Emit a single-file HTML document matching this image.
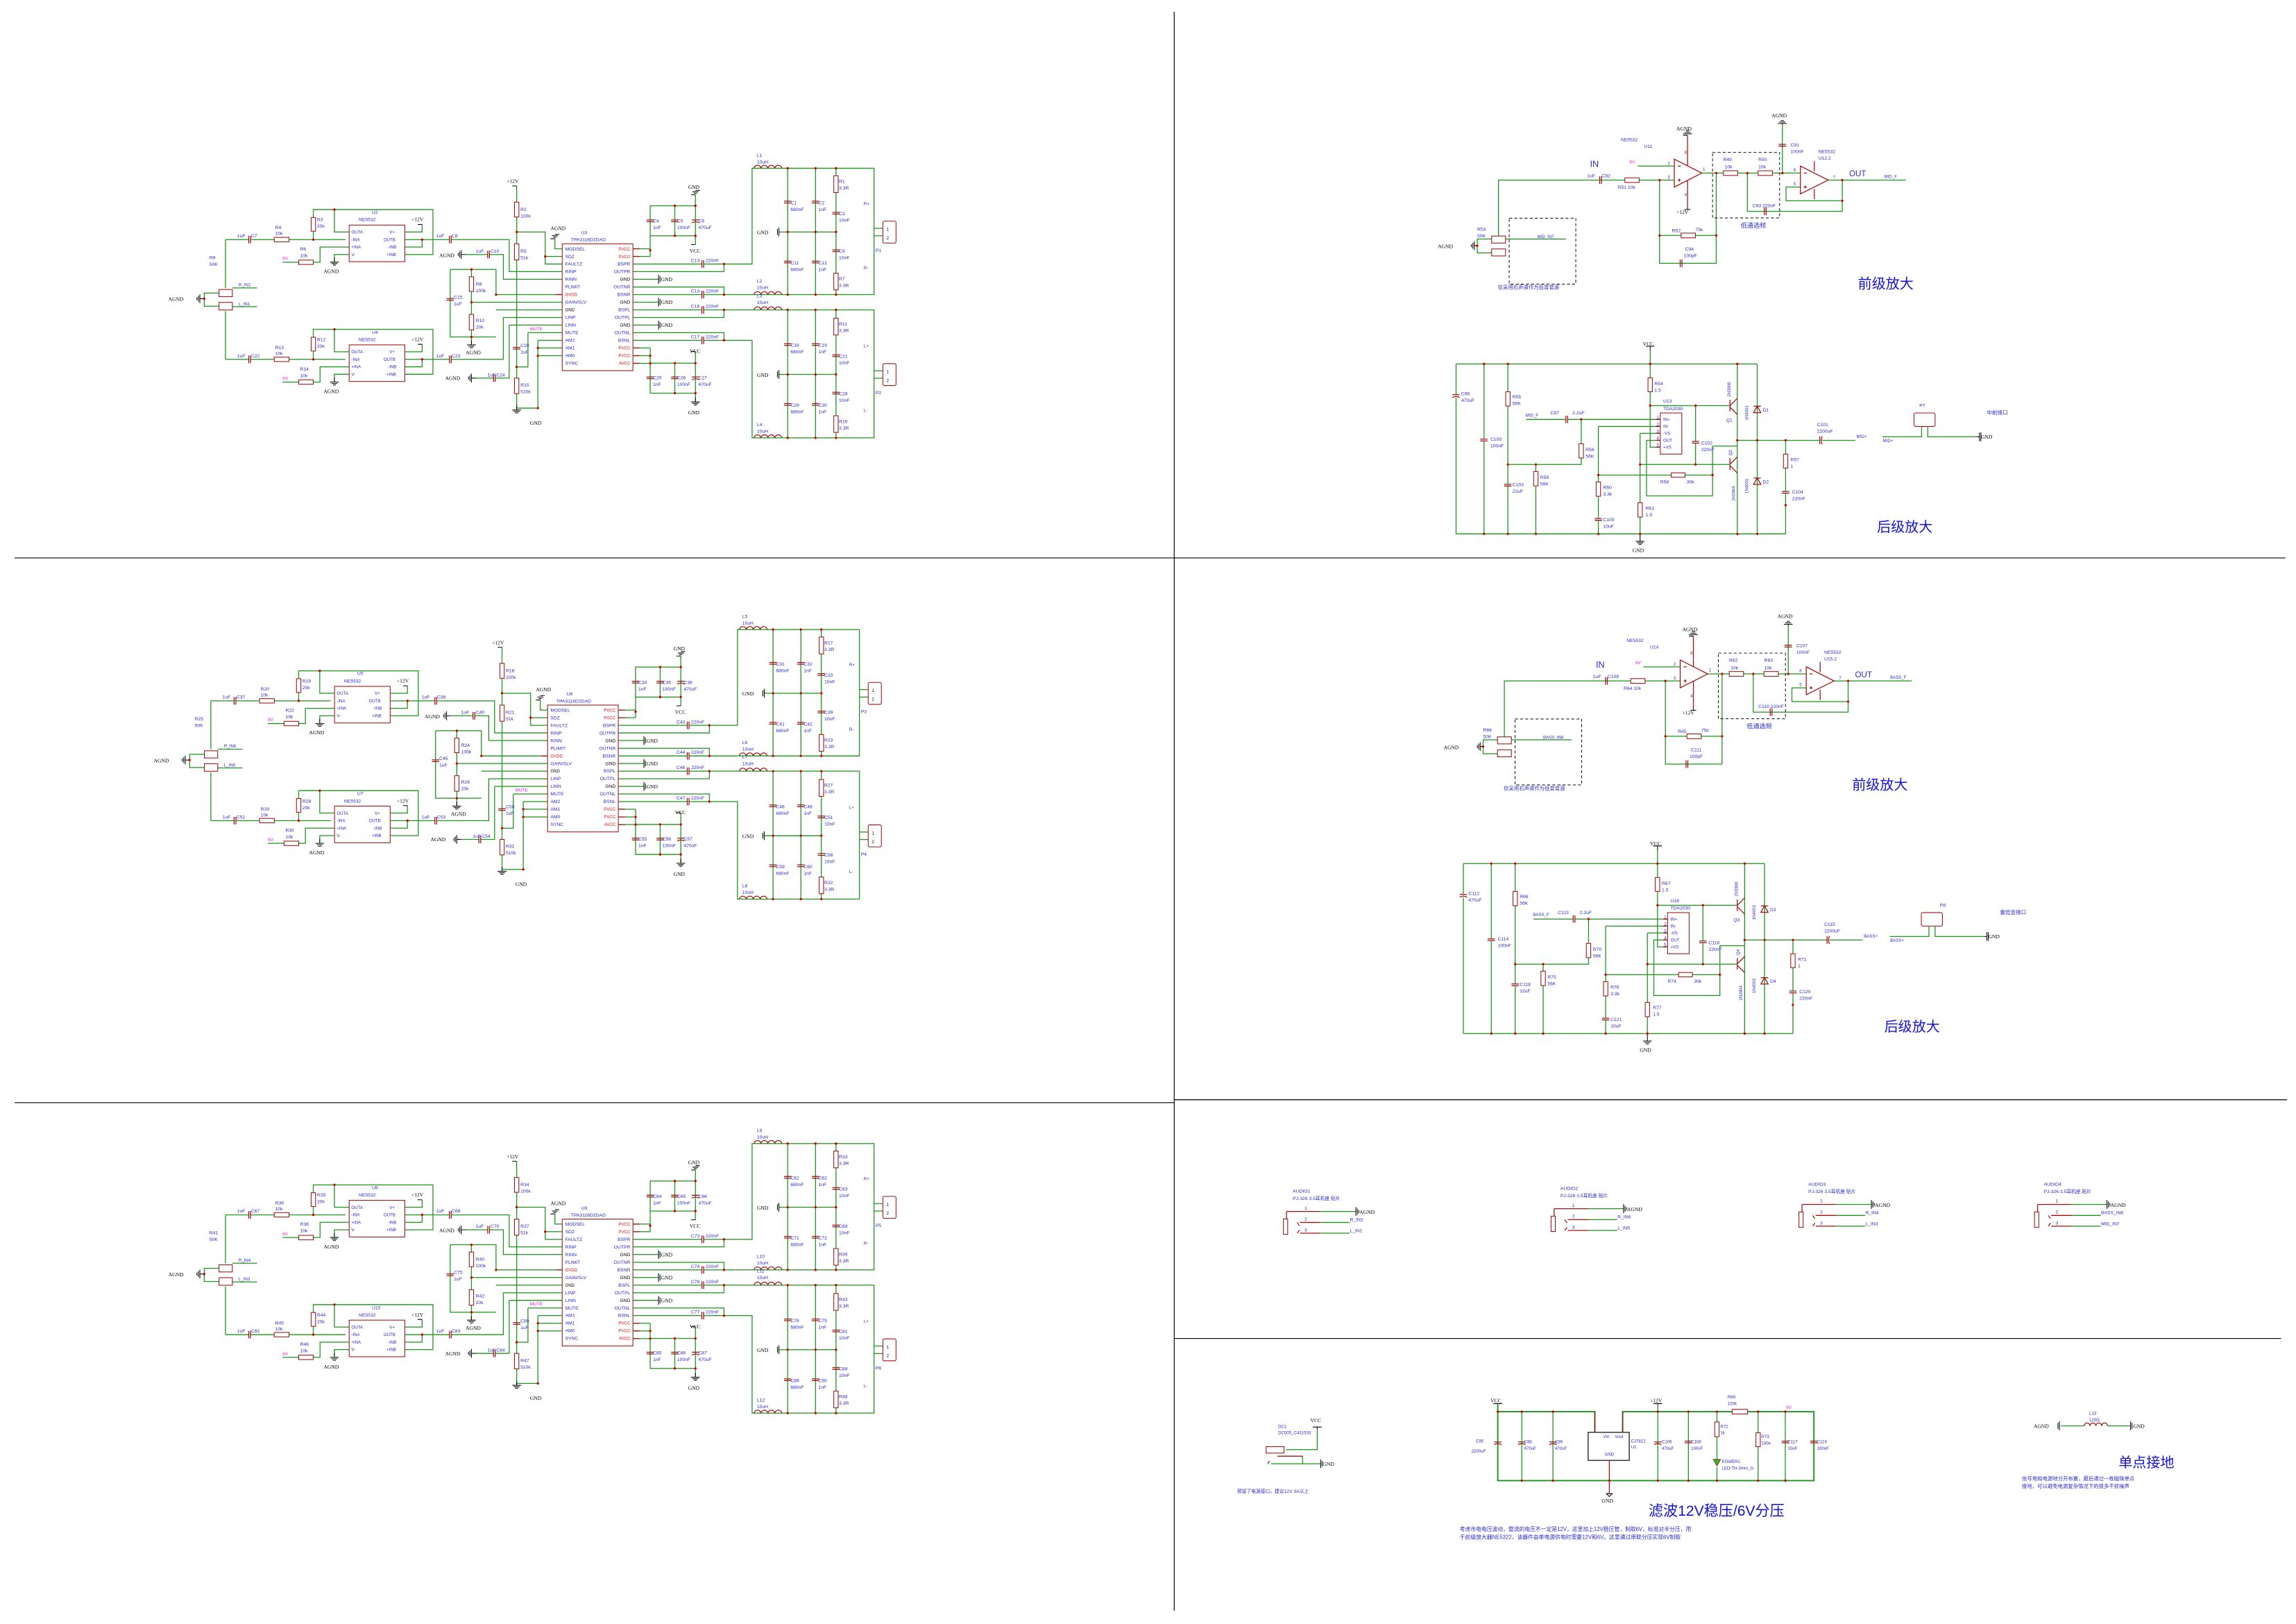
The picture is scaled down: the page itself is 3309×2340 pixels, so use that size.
<!DOCTYPE html>
<html><head><meta charset="utf-8"><style>
html,body{margin:0;padding:0;background:#fff}
svg{display:block}
.w{stroke:#1a941a;stroke-width:.6;fill:none}
.r{stroke:#a01010;stroke-width:.5;fill:#fff}
.c{stroke:#a01010;stroke-width:.6;fill:none}
.k{stroke:#000;stroke-width:.5;fill:none}
.d{fill:#d00000}
.dv{stroke:#000;stroke-width:.55;fill:none}
.ds{stroke:#000;stroke-width:.45;fill:none;stroke-dasharray:2 1.5}
text{font-family:"Liberation Sans","Noto Sans CJK SC",sans-serif;font-size:3.2px;fill:#2a2ad0}
.b{fill:#000;font-family:"Liberation Serif","Noto Serif CJK SC",serif;font-size:3.6px}
.m{fill:#e020e0;font-size:3px}
.rd{fill:#e01010}
.s{font-size:2.9px}
.big{font-size:9.5px;fill:#1010e0;font-family:"Liberation Sans","Noto Sans CJK SC",sans-serif}
</style></head><body>
<svg width="3309" height="2340" viewBox="0 0 1568.2 1109" preserveAspectRatio="none" xmlns="http://www.w3.org/2000/svg">
<defs>
<g id="gd"><path class="k" d="M0 -3V0M-3 0H3M-2 1H2M-1 2H1"/></g>
<g id="ag"><path class="k" d="M3 0H0M0 -3V3M-1 -2V2M-2 -1V1"/></g>
<g id="ampS">
<path class="w" d="M154 163.6V196.6M154 212.5V245.4M154 163.6H236M154 245.4H236
M214 163.6V143.1H295.7V173.8H276.5M228.4 143.1V158.4H238.5M276.5 158.4H288.3V153.3M276.5 163.6H347.8V185.5H384M276.5 168.7H288.3V163.6
M238.5 168.7H218.6V179.1H193M238.5 173.8H228.4V178
M214 245.4V224.9H295.7V255.6H276.5M228.4 224.9V240.2H238.5M276.5 240.2H288.3V235.1M276.5 245.4H343.8V216.8H384M276.5 250.5H288.3V245.4
M238.5 250.5H218.6V260.9H193M238.5 255.6H228.4V260
M318 173.8H343.8V190.7H384
M307.5 184H338.8V201.2H384M307.5 184V230.1H338.8M322 184V235M322 206.4H384M338.8 211.6H384
M347.8 222H384M325 258.2H347.8V222
M360.6 227.2H384M360.6 227.2V250.6H352.9
M367.4 232.4H384M367.4 237.6H384M367.4 242.9H384M367.4 232.4V278.7H352.9
M352.9 127V278.7M352.9 158.4H372.4V180.3H384M372.4 175.1H384M379 163V169.9H384
M432 169.9H444.1M432 175.1H444.1M444.1 175.1V140.5H475V161H444.1M460.9 140.5V161M475 133V140.5M475 161V167
M432 180.3H494.5V185.5H432M494.5 180.3H513.7V114.9H597V201.2H494.5V196H432M432 201.2H494.5
M432 190.7H449.8M432 206.4H449.8M432 222H449.8
M432 211.6H597V299H513.7V232.4H432M432 216.8H494.5V211.6M432 227.2H494.5V232.4
M432 237.6H444.1M432 242.9H444.1M432 248.1H444.1M444.1 237.6V268.5H475V248H444.1M460.9 248V268.5M475 240V248M475 268.5V274
M538 114.9V201.2M557 114.9V201.2M571 114.9V201.2M532 158.4H571
M538 211.6V299M557 211.6V299M571 211.6V299M532 255.7H571
M597 155.9H603M597 161H603M597 253.2H603M597 258.3H603
M139.5 204V200.1H149.6M139.5 204V209.1H149.6M158.7 196.6H175.6M158.7 209.4H175.6"/>
<path class="k" d="M449.8 187.7V193.7M450.8 188.7V192.7M449.8 203.4V209.4M450.8 204.4V208.4M449.8 219V225M450.8 220V224M532 155.4V161.4M531 156.4V160.4M532 252.7V258.7M531 253.7V257.7"/>
<use href="#ag" x="136.5" y="204"/><use href="#ag" x="315" y="173.8"/><use href="#ag" x="322" y="258.2"/>
<use href="#gd" x="228.4" y="179"/><use href="#gd" x="228.4" y="260.9"/><use href="#gd" x="322" y="235.5"/><use href="#gd" x="352.9" y="280"/>
<use href="#gd" x="475" y="274.5"/>
<path class="k" d="M288.3 153.3H285.3M288.3 235.1H285.3M352.9 127H349.9M475 133H472M475 130H478M473 131H477M474 132H476M379 163H376M379 160H382M377 161H381M378 162H380M475 167H472M475 240H472"/>
<g class="r">
<rect x="212.5" y="148.5" width="3" height="9.4"/><rect x="212.5" y="230.3" width="3" height="9.4"/>
<rect x="320.5" y="189" width="3" height="10"/><rect x="320.5" y="214.7" width="3" height="10.6"/>
<rect x="351.4" y="138" width="3" height="10.2"/><rect x="351.4" y="166.5" width="3" height="11"/><rect x="351.4" y="258.2" width="3" height="10.6"/>
<rect x="569.5" y="120" width="3" height="11.5"/><rect x="569.5" y="186.6" width="3" height="11.4"/>
<rect x="569.5" y="217.3" width="3" height="11.5"/><rect x="569.5" y="283.9" width="3" height="11.4"/>
<rect x="187.3" y="162.1" width="10.1" height="3"/><rect x="187.3" y="243.9" width="10.1" height="3"/>
<rect x="204" y="177.6" width="10" height="3"/><rect x="204" y="259.4" width="10" height="3"/>
<rect x="149.6" y="197.7" width="9.1" height="4.9"/><rect x="149.6" y="206.5" width="9.1" height="5.2"/>
<rect x="238.5" y="153.7" width="38" height="25"/><rect x="238.5" y="235.5" width="38" height="25"/>
<rect x="384" y="166.5" width="48.3" height="86.6"/>
<rect x="603" y="151" width="9" height="15" rx="1"/><rect x="603" y="248.3" width="9" height="15" rx="1"/>
</g>
<g fill="#fff"><rect x="169.8" y="161" width="1.4" height="5.2"/><rect x="169.8" y="242.8" width="1.4" height="5.2"/><rect x="306.9" y="161" width="1.4" height="5.2"/><rect x="306.9" y="242.8" width="1.4" height="5.2"/><rect x="333" y="171.2" width="1.4" height="5.2"/><rect x="337" y="255.6" width="1.4" height="5.2"/><rect x="479.3" y="177.7" width="1.4" height="5.2"/><rect x="479.3" y="198.6" width="1.4" height="5.2"/><rect x="479.3" y="209" width="1.4" height="5.2"/><rect x="479.3" y="229.8" width="1.4" height="5.2"/></g>
<path class="c" d="M169.9 161V166.2M171.1 161V166.2M169.9 242.8V248M171.1 242.8V248M307 161V166.2M308.2 161V166.2M307 242.8V248M308.2 242.8V248M333.1 171.2V176.4M334.3 171.2V176.4M337.1 255.6V260.8M338.3 255.6V260.8M479.4 177.7V182.9M480.6 177.7V182.9M479.4 198.6V203.8M480.6 198.6V203.8M479.4 209V214.2M480.6 209V214.2M479.4 229.8V235M480.6 229.8V235
M305 203.9H310M305 205.1H310M350.4 237.2H355.4M350.4 238.4H355.4M441.6 150.2H446.6M441.6 151.4H446.6M458.4 150.2H463.4M458.4 151.4H463.4M472.5 150.2H477.5M472.5 152.2Q475 150.6 477.5 152.2
M441.6 257.4H446.6M441.6 258.6H446.6M458.4 257.4H463.4M458.4 258.6H463.4M472.5 257.4H477.5M472.5 259.4Q475 257.8 477.5 259.4
M535.5 137.4H540.5M535.5 138.6H540.5M554.5 137.4H559.5M554.5 138.6H559.5M568.5 145H573.5M568.5 146.2H573.5M568.5 170.6H573.5M568.5 171.8H573.5M535.5 178.3H540.5M535.5 179.5H540.5M554.5 178.3H559.5M554.5 179.5H559.5
M535.5 234.7H540.5M535.5 235.9H540.5M554.5 234.7H559.5M554.5 235.9H559.5M568.5 242.3H573.5M568.5 243.5H573.5M568.5 267.9H573.5M568.5 269.1H573.5M535.5 275.6H540.5M535.5 276.8H540.5M554.5 275.6H559.5M554.5 276.8H559.5
M515 114.9a2.4 2.4 0 0 1 4.75 0a2.4 2.4 0 0 1 4.75 0a2.4 2.4 0 0 1 4.75 0a2.4 2.4 0 0 1 4.75 0
M515 201.2a2.4 2.4 0 0 1 4.75 0a2.4 2.4 0 0 1 4.75 0a2.4 2.4 0 0 1 4.75 0a2.4 2.4 0 0 1 4.75 0
M515 211.6a2.4 2.4 0 0 1 4.75 0a2.4 2.4 0 0 1 4.75 0a2.4 2.4 0 0 1 4.75 0a2.4 2.4 0 0 1 4.75 0
M515 299a2.4 2.4 0 0 1 4.75 0a2.4 2.4 0 0 1 4.75 0a2.4 2.4 0 0 1 4.75 0a2.4 2.4 0 0 1 4.75 0
M432.3 169.9H437M432.3 175.1H437M432.3 237.6H437M432.3 242.9H437M432.3 248.1H437M379.5 201.2H384"/>
<g class="d"><circle cx="214" cy="163.6" r=".8"/><circle cx="228.4" cy="143.1" r=".8"/><circle cx="288.3" cy="163.6" r=".8"/><circle cx="214" cy="245.4" r=".8"/><circle cx="228.4" cy="224.9" r=".8"/><circle cx="288.3" cy="245.4" r=".8"/><circle cx="139.5" cy="204" r=".8"/><circle cx="322" cy="184" r=".8"/><circle cx="322" cy="206.4" r=".8"/><circle cx="322" cy="230.1" r=".8"/><circle cx="352.9" cy="158.4" r=".8"/><circle cx="352.9" cy="250.6" r=".8"/><circle cx="372.4" cy="175.1" r=".8"/><circle cx="367.4" cy="237.6" r=".8"/><circle cx="367.4" cy="242.9" r=".8"/><circle cx="367.4" cy="278.7" r=".8"/><circle cx="338.8" cy="201.2" r=".8"/><circle cx="444.1" cy="171" r=".8"/><circle cx="460.9" cy="140.5" r=".8"/><circle cx="475" cy="140.5" r=".8"/><circle cx="460.9" cy="161" r=".8"/><circle cx="475" cy="161" r=".8"/><circle cx="494.5" cy="180.3" r=".8"/><circle cx="494.5" cy="201.2" r=".8"/><circle cx="494.5" cy="211.6" r=".8"/><circle cx="494.5" cy="232.4" r=".8"/><circle cx="444.1" cy="242.9" r=".8"/><circle cx="444.1" cy="248.1" r=".8"/><circle cx="460.9" cy="248" r=".8"/><circle cx="475" cy="248" r=".8"/><circle cx="460.9" cy="268.5" r=".8"/><circle cx="475" cy="268.5" r=".8"/>
<circle cx="538" cy="114.9" r=".8"/><circle cx="557" cy="114.9" r=".8"/><circle cx="571" cy="114.9" r=".8"/><circle cx="538" cy="158.4" r=".8"/><circle cx="557" cy="158.4" r=".8"/><circle cx="571" cy="158.4" r=".8"/><circle cx="538" cy="201.2" r=".8"/><circle cx="557" cy="201.2" r=".8"/><circle cx="571" cy="201.2" r=".8"/><circle cx="538" cy="211.6" r=".8"/><circle cx="557" cy="211.6" r=".8"/><circle cx="571" cy="211.6" r=".8"/><circle cx="538" cy="255.7" r=".8"/><circle cx="557" cy="255.7" r=".8"/><circle cx="571" cy="255.7" r=".8"/><circle cx="538" cy="299" r=".8"/><circle cx="557" cy="299" r=".8"/><circle cx="571" cy="299" r=".8"/></g>
</g>

<g id="preS">
<path class="w" d="M1023.5 161.2V123H1143.6M1118.4 113.4H1143.6M1162.4 118.2H1229.7M1217.4 118.2V85.3M1248.7 123H1301.8M1258.3 123V137.1H1219.9V127.7H1229.7M1193.5 118.2V144.3H1258.3V137.1M1133.5 123V179.8H1172.2V118.2M1133.5 160.8H1172.2M1009 167.8V163.2H1018.8M1009 167.8V172.7H1018.8M1028.3 163.2H1069.5"/>
<path class="c" d="M1152.6 92.4V113.2M1152.6 123.2V141.9M1143.6 108.7V127.7L1162.4 118.2ZM1229.7 113.4V132.4L1248.7 123ZM1239.2 110V117M1239.2 129V136M1146 113.4H1148M1146 123H1148M1147 122V124M1232 118.2H1234M1232 127.7H1234M1233 126.7V128.7
M1092.6 120.4V125.6M1093.8 120.4V125.6M1205.1 141.7V146.9M1206.3 141.7V146.9M1147.6 177.2V182.4M1148.8 177.2V182.4M1214.8 98.6H1220M1214.8 99.8H1220"/>
<g class="r"><rect x="1109.8" y="121.4" width="9.8" height="3.2"/><rect x="1177.1" y="116.6" width="9.8" height="3.2"/><rect x="1200.8" y="116.6" width="9.8" height="3.2"/><rect x="1148.2" y="159.2" width="9.8" height="3.2"/><rect x="1018.8" y="161.2" width="9.5" height="4.8"/><rect x="1018.8" y="170" width="9.5" height="4.8"/></g>
<rect class="ds" x="1169.7" y="104" width="45.8" height="44.8"/><rect class="ds" x="1030.8" y="149" width="45.5" height="45"/>
<path class="k" d="M1152.6 92.4H1149.6M1149.6 91.4H1155.6M1150.6 90.4H1154.6M1151.6 89.4H1153.6M1152.6 141.9V143M1150.6 143H1154.6M1217.4 85.3V84.3M1214.4 84.3H1220.4M1215.4 83.3H1219.4M1216.4 82.3H1218.4M1009 167.8H1007M1007 164.8V170.8M1006 165.8V169.8M1005 166.8V168.8"/>
<g class="d"><circle cx="1133.5" cy="123" r=".8"/><circle cx="1172.2" cy="118.2" r=".8"/><circle cx="1193.5" cy="118.2" r=".8"/><circle cx="1217.4" cy="118.2" r=".8"/><circle cx="1258.3" cy="123" r=".8"/><circle cx="1258.3" cy="137.1" r=".8"/><circle cx="1133.5" cy="160.8" r=".8"/><circle cx="1172.2" cy="160.8" r=".8"/><circle cx="1009" cy="167.8" r=".8"/></g>
</g>

<g id="backS">
<path class="w" d="M994.5 248.5H1200.2M994.5 364.6H1219.6M994.5 248.5V364.6M1013.6 248.5V364.6M1029.9 248.5V364.6M1049 317.2V364.6M1029.9 317.2H1080V286.4M1042.3 286.4H1134M1091.7 291.2H1134M1091.7 291.2V364.6M1091.7 324.4H1169.7M1169.7 304.6V338.6H1124.6V300.7H1134M1127.1 239.3V305.4H1134M1127.1 277H1181.6M1158.1 277V317.2M1120.2 295.9H1134M1120.2 295.9V364.6M1120.2 317.2H1181.6M1186.6 248.5V364.6M1200.2 248.5V364.6M1186.6 300.7H1267.2M1219.6 300.7V364.6M1169.7 304.6H1186.6M1285.8 298.3H1312.5V291.2M1316.7 291.2V298.3H1350.2"/>
<g class="r"><rect x="1125.6" y="258" width="3" height="9.5"/><rect x="1028.4" y="267.5" width="3" height="9.8"/><rect x="1078.5" y="303" width="3" height="9.8"/><rect x="1047.5" y="322" width="3" height="9.8"/><rect x="1090.2" y="329.1" width="3" height="9.8"/><rect x="1118.7" y="343.3" width="3" height="9.8"/><rect x="1218.1" y="310.1" width="3" height="9.5"/><rect x="1141.5" y="322.9" width="9.4" height="3"/><rect x="1134" y="282" width="14.7" height="28.1"/><rect x="1307.3" y="282" width="14.4" height="9.2" rx="1"/></g>
<g fill="#fff"><rect x="992" y="269.5" width="5" height="2"/><rect x="1011" y="299.9" width="5" height="1.4"/><rect x="1027.4" y="330.7" width="5" height="1.4"/><rect x="1089.2" y="354.1" width="5" height="1.4"/><rect x="1155.6" y="301.4" width="5" height="1.4"/><rect x="1217.1" y="335.6" width="5" height="1.4"/><rect x="1069.4" y="284" width="1.4" height="5"/><rect x="1242.9" y="298" width="1.6" height="5.4"/></g>
<path class="c" d="M992 269.5H997M992 271.5Q994.5 269.9 997 271.5M1011 299.9H1016M1011 301.1H1016M1027.4 330.7H1032.4M1027.4 331.9H1032.4M1089.2 354.1H1094.2M1089.2 355.3H1094.2M1155.6 301.4H1160.6M1155.6 302.6H1160.6M1217.1 335.6H1222.1M1217.1 336.8H1222.1M1069.5 283.9V288.9M1070.7 283.9V288.9M1242.9 298V303.4M1244.6 298Q1243.2 300.7 1244.6 303.4
M1181.6 273V281M1181.6 277L1186.6 272M1181.6 278L1186.6 283M1181.6 313V321M1181.6 317L1186.6 312M1181.6 318L1186.6 323M1197.7 281.8H1202.7L1200.2 277.4ZM1197.7 277.4H1202.7M1197.7 330.8H1202.7L1200.2 326.4ZM1197.7 326.4H1202.7M1134 286.4H1131M1134 291.2H1131M1134 295.9H1131M1134 300.7H1131M1134 305.4H1131"/>
<path class="k" d="M1127.1 239.3V236.5M1124.1 236.5H1130.1M1120.2 364.6V369.7M1117.2 369.7H1123.2M1118.2 370.7H1122.2M1119.2 371.7H1121.2M1350.2 298.3H1352M1352 295.3V301.3M1353 295.3V301.3"/>
<g class="d"><circle cx="1013.6" cy="248.5" r=".8"/><circle cx="1029.9" cy="248.5" r=".8"/><circle cx="1127.1" cy="248.5" r=".8"/><circle cx="1186.6" cy="248.5" r=".8"/><circle cx="1013.6" cy="364.6" r=".8"/><circle cx="1029.9" cy="364.6" r=".8"/><circle cx="1049" cy="364.6" r=".8"/><circle cx="1091.7" cy="364.6" r=".8"/><circle cx="1120.2" cy="364.6" r=".8"/><circle cx="1186.6" cy="364.6" r=".8"/><circle cx="1200.2" cy="364.6" r=".8"/><circle cx="1127.1" cy="277" r=".8"/><circle cx="1158.1" cy="277" r=".8"/><circle cx="1080" cy="286.4" r=".8"/><circle cx="1029.9" cy="317.2" r=".8"/><circle cx="1049" cy="317.2" r=".8"/><circle cx="1120.2" cy="317.2" r=".8"/><circle cx="1158.1" cy="317.2" r=".8"/><circle cx="1091.7" cy="324.4" r=".8"/><circle cx="1169.7" cy="324.4" r=".8"/><circle cx="1186.6" cy="300.7" r=".8"/><circle cx="1200.2" cy="300.7" r=".8"/><circle cx="1219.6" cy="300.7" r=".8"/><circle cx="1219.6" cy="345" r=".8"/></g>
</g>

<g id="jackS">
<path class="c" d="M878.7 827.3H902M878.7 827.3V832.4M888 834.8H902M888 842.1H902M886 834.8L887.5 837M886 842.1L887.5 840"/>
<path class="w" d="M902 827.3H926.1M902 834.8H921.8M902 842.1H921.8"/>
<rect class="r" x="876.6" y="832.4" width="2.9" height="10.5"/>
<path class="k" d="M926.1 824.3V830.3M927.1 825.3V829.3M928.1 826.3V828.3"/>
</g>
</defs>

<!-- dividers -->
<path class="dv" d="M802 8V1100M10 381H1561M10 753H802M802 751H1562M802 914H1558"/>

<!-- amp block 1 -->
<use href="#ampS"/>
<use href="#ampS" transform="translate(-10,315)"/>
<use href="#ampS" transform="translate(0,666)"/>

<g id="t1">
<text class="b" x="115" y="205.5">AGND</text><text x="143" y="177">R9</text><text x="143" y="181.5">50K</text>
<text class="s" x="163" y="195.5">R_IN2</text><text class="s" x="163" y="208.5">L_IN1</text>
<text x="162" y="162">1uF</text><text x="171.5" y="162">C7</text><text x="188" y="156.5">R4</text><text x="188" y="160.5">10k</text>
<text x="216.5" y="151">R3</text><text x="216.5" y="155.5">20k</text><text x="205" y="171">R6</text><text x="205" y="175.5">10k</text><text class="m" x="193" y="177.5">6V</text>
<text x="254" y="146">U2</text><text x="245" y="151">NE5532</text><text class="b" x="281" y="151">+12V</text><text class="b" x="221" y="186.5">AGND</text>
<text class="s" x="240" y="159.5">OUTA</text><text class="s" x="240" y="164.6">-INA</text><text class="s" x="240" y="169.7">+INA</text><text class="s" x="240" y="174.8">V-</text>
<text class="s" x="266" y="159.5">V+</text><text class="s" x="262" y="164.6">OUTB</text><text class="s" x="265" y="169.7">-INB</text><text class="s" x="264" y="174.8">+INB</text>
<text x="162" y="244">1uF</text><text x="171.5" y="244">C22</text><text x="188" y="238.5">R13</text><text x="188" y="242.5">10k</text>
<text x="216.5" y="233">R12</text><text x="216.5" y="237.5">20k</text><text x="205" y="253">R14</text><text x="205" y="257.5">10k</text><text class="m" x="193" y="259.5">6V</text>
<text x="254" y="228">U4</text><text x="245" y="233">NE5532</text><text class="b" x="281" y="233">+12V</text><text class="b" x="221" y="268.5">AGND</text>
<text class="s" x="240" y="241.3">OUTA</text><text class="s" x="240" y="246.4">-INA</text><text class="s" x="240" y="251.5">+INA</text><text class="s" x="240" y="256.6">V-</text>
<text class="s" x="266" y="241.3">V+</text><text class="s" x="262" y="246.4">OUTB</text><text class="s" x="265" y="251.5">-INB</text><text class="s" x="264" y="256.6">+INB</text>
<text x="298" y="162">1uF</text><text x="308.5" y="162">C8</text><text x="298" y="244">1uF</text><text x="308.5" y="244">C23</text>
<text class="b" x="300" y="175.5">AGND</text><text x="325" y="172.5">1uF</text><text x="335" y="172.5">C10</text>
<text class="b" x="346" y="125">+12V</text><text x="355.5" y="144">R2</text><text x="355.5" y="148.5">100k</text><text x="355.5" y="172.5">R5</text><text x="355.5" y="177">51k</text><text x="355.5" y="264">R15</text><text x="355.5" y="268.5">510k</text>
<text x="310" y="204">C15</text><text x="310" y="208.5">1uF</text><text x="325" y="195">R8</text><text x="325" y="199.5">100k</text><text x="325" y="220">R10</text><text x="325" y="224.5">20k</text>
<text class="b" x="318" y="242">AGND</text><text class="m" x="362" y="225.5">MUTE</text><text x="355.5" y="237">C20</text><text x="355.5" y="241.5">1uF</text>
<text class="b" x="304" y="259.5">AGND</text><text x="333" y="257">1uF</text><text x="339" y="257">C24</text><text class="b" x="362" y="290">GND</text>
<text class="b" x="376" y="157">AGND</text><text x="397" y="160">U3</text><text x="390" y="164.8">TPA3116D2DAD</text>
<g class="s"><text x="386" y="171">MODSEL</text><text x="386" y="176.2">SDZ</text><text x="386" y="181.4">FAULTZ</text><text x="386" y="186.6">RINP</text><text x="386" y="191.8">RINN</text><text x="386" y="197">PLIMIT</text><text class="rd s" x="386" y="202.2">GVDD</text><text x="386" y="207.4">GAIN/SLV</text><text class="s" x="386" y="212.6" style="fill:#000">GND</text><text x="386" y="217.8">LINP</text><text x="386" y="223">LINN</text><text x="386" y="228.2">MUTE</text><text x="386" y="233.4">AM2</text><text x="386" y="238.6">AM1</text><text x="386" y="243.8">AM0</text><text x="386" y="249">SYNC</text></g>
<g class="s" text-anchor="end"><text class="rd s" x="430.5" y="171">PVCC</text><text class="rd s" x="430.5" y="176.2">PVCC</text><text x="430.5" y="181.4">BSPR</text><text x="430.5" y="186.6">OUTPR</text><text x="430.5" y="191.8" style="fill:#000">GND</text><text x="430.5" y="197">OUTNR</text><text x="430.5" y="202.2">BSNR</text><text x="430.5" y="207.4" style="fill:#000">GND</text><text x="430.5" y="212.6">BSPL</text><text x="430.5" y="217.8">OUTPL</text><text x="430.5" y="223" style="fill:#000">GND</text><text x="430.5" y="228.2">OUTNL</text><text x="430.5" y="233.4">BSNL</text><text class="rd s" x="430.5" y="238.6">PVCC</text><text class="rd s" x="430.5" y="243.8">PVCC</text><text class="rd s" x="430.5" y="249">AVCC</text></g>
<text class="b" x="470" y="129">GND</text><text x="446" y="152">C4</text><text x="446" y="156.5">1nF</text><text x="462.5" y="152">C5</text><text x="462.5" y="156.5">100nF</text><text x="477" y="152">C6</text><text x="477" y="156.5">470uF</text><text class="b" x="471" y="172.5">VCC</text>
<text x="472" y="179">C13</text><text x="482" y="179">220nF</text><text x="472" y="199.8">C14</text><text x="482" y="199.8">220nF</text><text x="472" y="210.2">C16</text><text x="482" y="210.2">220nF</text><text x="472" y="231">C17</text><text x="482" y="231">220nF</text>
<text class="b" x="451.5" y="192">GND</text><text class="b" x="451.5" y="207.7">GND</text><text class="b" x="451.5" y="223.3">GND</text>
<text class="b" x="471" y="241">VCC</text><text x="446" y="259">C25</text><text x="446" y="263.5">1nF</text><text x="462.5" y="259">C26</text><text x="462.5" y="263.5">100nF</text><text x="477" y="259">C27</text><text x="477" y="263.5">470uF</text><text class="b" x="470" y="283">GND</text>
<text x="517" y="107">L1</text><text x="517" y="111.5">10uH</text><text x="517" y="193">L2</text><text x="517" y="197.5">10uH</text><text x="517" y="203">L3</text><text x="517" y="207.5">10uH</text><text x="517" y="291">L4</text><text x="517" y="295.5">10uH</text>
<text class="b" x="517" y="160">GND</text><text class="b" x="517" y="257.3">GND</text>
<text x="540" y="139.5">C1</text><text x="540" y="144">680nF</text><text x="559" y="139.5">C2</text><text x="559" y="144">1nF</text><text x="573" y="147">C3</text><text x="573" y="151.5">10nF</text><text x="573" y="125">R1</text><text x="573" y="129.5">3.3R</text>
<text x="573" y="172.5">C9</text><text x="573" y="177">10nF</text><text x="540" y="180.5">C11</text><text x="540" y="185">680nF</text><text x="559" y="180.5">C12</text><text x="559" y="185">1nF</text><text x="573" y="191.5">R7</text><text x="573" y="196">3.3R</text>
<text x="540" y="236.8">C18</text><text x="540" y="241.3">680nF</text><text x="559" y="236.8">C19</text><text x="559" y="241.3">1nF</text><text x="573" y="244.3">C21</text><text x="573" y="248.8">10nF</text><text x="573" y="222.3">R11</text><text x="573" y="226.8">3.3R</text>
<text x="573" y="269.8">C28</text><text x="573" y="274.3">10nF</text><text x="540" y="277.8">C29</text><text x="540" y="282.3">680nF</text><text x="559" y="277.8">C30</text><text x="559" y="282.3">1nF</text><text x="573" y="288.8">R16</text><text x="573" y="293.3">3.3R</text>
<text class="s" x="590" y="140">R+</text><text class="s" x="590" y="184">R-</text><text x="598" y="172">P1</text><text class="s" x="590" y="237.3">L+</text><text class="s" x="590" y="281.3">L-</text><text x="598" y="269.3">P2</text>
<text class="s" x="605.5" y="157.5" style="fill:#000">1</text><text class="s" x="605.5" y="163.5" style="fill:#000">2</text><text class="s" x="605.5" y="254.8" style="fill:#000">1</text><text class="s" x="605.5" y="260.8" style="fill:#000">2</text>
</g>

<g transform="translate(-10,315)">
<text class="b" x="115" y="205.5">AGND</text><text x="143" y="177">R25</text><text x="143" y="181.5">50K</text>
<text class="s" x="163" y="195.5">R_IN6</text><text class="s" x="163" y="208.5">L_IN5</text>
<text x="162" y="162">1uF</text><text x="171.5" y="162">C37</text><text x="188" y="156.5">R20</text><text x="188" y="160.5">10k</text>
<text x="216.5" y="151">R19</text><text x="216.5" y="155.5">20k</text><text x="205" y="171">R22</text><text x="205" y="175.5">10k</text><text class="m" x="193" y="177.5">6V</text>
<text x="254" y="146">U5</text><text x="245" y="151">NE5532</text><text class="b" x="281" y="151">+12V</text><text class="b" x="221" y="186.5">AGND</text>
<text class="s" x="240" y="159.5">OUTA</text><text class="s" x="240" y="164.6">-INA</text><text class="s" x="240" y="169.7">+INA</text><text class="s" x="240" y="174.8">V-</text>
<text class="s" x="266" y="159.5">V+</text><text class="s" x="262" y="164.6">OUTB</text><text class="s" x="265" y="169.7">-INB</text><text class="s" x="264" y="174.8">+INB</text>
<text x="162" y="244">1uF</text><text x="171.5" y="244">C52</text><text x="188" y="238.5">R29</text><text x="188" y="242.5">10k</text>
<text x="216.5" y="233">R28</text><text x="216.5" y="237.5">20k</text><text x="205" y="253">R30</text><text x="205" y="257.5">10k</text><text class="m" x="193" y="259.5">6V</text>
<text x="254" y="228">U7</text><text x="245" y="233">NE5532</text><text class="b" x="281" y="233">+12V</text><text class="b" x="221" y="268.5">AGND</text>
<text class="s" x="240" y="241.3">OUTA</text><text class="s" x="240" y="246.4">-INA</text><text class="s" x="240" y="251.5">+INA</text><text class="s" x="240" y="256.6">V-</text>
<text class="s" x="266" y="241.3">V+</text><text class="s" x="262" y="246.4">OUTB</text><text class="s" x="265" y="251.5">-INB</text><text class="s" x="264" y="256.6">+INB</text>
<text x="298" y="162">1uF</text><text x="308.5" y="162">C38</text><text x="298" y="244">1uF</text><text x="308.5" y="244">C53</text>
<text class="b" x="300" y="175.5">AGND</text><text x="325" y="172.5">1uF</text><text x="335" y="172.5">C40</text>
<text class="b" x="346" y="125">+12V</text><text x="355.5" y="144">R18</text><text x="355.5" y="148.5">100k</text><text x="355.5" y="172.5">R21</text><text x="355.5" y="177">51k</text><text x="355.5" y="264">R31</text><text x="355.5" y="268.5">510k</text>
<text x="310" y="204">C45</text><text x="310" y="208.5">1uF</text><text x="325" y="195">R24</text><text x="325" y="199.5">100k</text><text x="325" y="220">R26</text><text x="325" y="224.5">20k</text>
<text class="b" x="318" y="242">AGND</text><text class="m" x="362" y="225.5">MUTE</text><text x="355.5" y="237">C50</text><text x="355.5" y="241.5">1uF</text>
<text class="b" x="304" y="259.5">AGND</text><text x="333" y="257">1uF</text><text x="339" y="257">C54</text><text class="b" x="362" y="290">GND</text>
<text class="b" x="376" y="157">AGND</text><text x="397" y="160">U6</text><text x="390" y="164.8">TPA3116D2DAD</text>
<g class="s"><text x="386" y="171">MODSEL</text><text x="386" y="176.2">SDZ</text><text x="386" y="181.4">FAULTZ</text><text x="386" y="186.6">RINP</text><text x="386" y="191.8">RINN</text><text x="386" y="197">PLIMIT</text><text class="rd s" x="386" y="202.2">GVDD</text><text x="386" y="207.4">GAIN/SLV</text><text class="s" x="386" y="212.6" style="fill:#000">GND</text><text x="386" y="217.8">LINP</text><text x="386" y="223">LINN</text><text x="386" y="228.2">MUTE</text><text x="386" y="233.4">AM2</text><text x="386" y="238.6">AM1</text><text x="386" y="243.8">AM0</text><text x="386" y="249">SYNC</text></g>
<g class="s" text-anchor="end"><text class="rd s" x="430.5" y="171">PVCC</text><text class="rd s" x="430.5" y="176.2">PVCC</text><text x="430.5" y="181.4">BSPR</text><text x="430.5" y="186.6">OUTPR</text><text x="430.5" y="191.8" style="fill:#000">GND</text><text x="430.5" y="197">OUTNR</text><text x="430.5" y="202.2">BSNR</text><text x="430.5" y="207.4" style="fill:#000">GND</text><text x="430.5" y="212.6">BSPL</text><text x="430.5" y="217.8">OUTPL</text><text x="430.5" y="223" style="fill:#000">GND</text><text x="430.5" y="228.2">OUTNL</text><text x="430.5" y="233.4">BSNL</text><text class="rd s" x="430.5" y="238.6">PVCC</text><text class="rd s" x="430.5" y="243.8">PVCC</text><text class="rd s" x="430.5" y="249">AVCC</text></g>
<text class="b" x="470" y="129">GND</text><text x="446" y="152">C34</text><text x="446" y="156.5">1nF</text><text x="462.5" y="152">C35</text><text x="462.5" y="156.5">100nF</text><text x="477" y="152">C36</text><text x="477" y="156.5">470uF</text><text class="b" x="471" y="172.5">VCC</text>
<text x="472" y="179">C43</text><text x="482" y="179">220nF</text><text x="472" y="199.8">C44</text><text x="482" y="199.8">220nF</text><text x="472" y="210.2">C46</text><text x="482" y="210.2">220nF</text><text x="472" y="231">C47</text><text x="482" y="231">220nF</text>
<text class="b" x="451.5" y="192">GND</text><text class="b" x="451.5" y="207.7">GND</text><text class="b" x="451.5" y="223.3">GND</text>
<text class="b" x="471" y="241">VCC</text><text x="446" y="259">C55</text><text x="446" y="263.5">1nF</text><text x="462.5" y="259">C56</text><text x="462.5" y="263.5">100nF</text><text x="477" y="259">C57</text><text x="477" y="263.5">470uF</text><text class="b" x="470" y="283">GND</text>
<text x="517" y="107">L5</text><text x="517" y="111.5">10uH</text><text x="517" y="193">L6</text><text x="517" y="197.5">10uH</text><text x="517" y="203">L7</text><text x="517" y="207.5">10uH</text><text x="517" y="291">L8</text><text x="517" y="295.5">10uH</text>
<text class="b" x="517" y="160">GND</text><text class="b" x="517" y="257.3">GND</text>
<text x="540" y="139.5">C31</text><text x="540" y="144">680nF</text><text x="559" y="139.5">C32</text><text x="559" y="144">1nF</text><text x="573" y="147">C33</text><text x="573" y="151.5">10nF</text><text x="573" y="125">R17</text><text x="573" y="129.5">3.3R</text>
<text x="573" y="172.5">C39</text><text x="573" y="177">10nF</text><text x="540" y="180.5">C41</text><text x="540" y="185">680nF</text><text x="559" y="180.5">C42</text><text x="559" y="185">1nF</text><text x="573" y="191.5">R23</text><text x="573" y="196">3.3R</text>
<text x="540" y="236.8">C48</text><text x="540" y="241.3">680nF</text><text x="559" y="236.8">C49</text><text x="559" y="241.3">1nF</text><text x="573" y="244.3">C51</text><text x="573" y="248.8">10nF</text><text x="573" y="222.3">R27</text><text x="573" y="226.8">3.3R</text>
<text x="573" y="269.8">C58</text><text x="573" y="274.3">10nF</text><text x="540" y="277.8">C59</text><text x="540" y="282.3">680nF</text><text x="559" y="277.8">C60</text><text x="559" y="282.3">1nF</text><text x="573" y="288.8">R32</text><text x="573" y="293.3">3.3R</text>
<text class="s" x="590" y="140">R+</text><text class="s" x="590" y="184">R-</text><text x="598" y="172">P3</text><text class="s" x="590" y="237.3">L+</text><text class="s" x="590" y="281.3">L-</text><text x="598" y="269.3">P4</text>
<text class="s" x="605.5" y="157.5" style="fill:#000">1</text><text class="s" x="605.5" y="163.5" style="fill:#000">2</text><text class="s" x="605.5" y="254.8" style="fill:#000">1</text><text class="s" x="605.5" y="260.8" style="fill:#000">2</text>
</g>

<g transform="translate(0,666)">
<text class="b" x="115" y="205.5">AGND</text><text x="143" y="177">R41</text><text x="143" y="181.5">50K</text>
<text class="s" x="163" y="195.5">R_IN4</text><text class="s" x="163" y="208.5">L_IN3</text>
<text x="162" y="162">1uF</text><text x="171.5" y="162">C67</text><text x="188" y="156.5">R36</text><text x="188" y="160.5">10k</text>
<text x="216.5" y="151">R35</text><text x="216.5" y="155.5">20k</text><text x="205" y="171">R38</text><text x="205" y="175.5">10k</text><text class="m" x="193" y="177.5">6V</text>
<text x="254" y="146">U8</text><text x="245" y="151">NE5532</text><text class="b" x="281" y="151">+12V</text><text class="b" x="221" y="186.5">AGND</text>
<text class="s" x="240" y="159.5">OUTA</text><text class="s" x="240" y="164.6">-INA</text><text class="s" x="240" y="169.7">+INA</text><text class="s" x="240" y="174.8">V-</text>
<text class="s" x="266" y="159.5">V+</text><text class="s" x="262" y="164.6">OUTB</text><text class="s" x="265" y="169.7">-INB</text><text class="s" x="264" y="174.8">+INB</text>
<text x="162" y="244">1uF</text><text x="171.5" y="244">C82</text><text x="188" y="238.5">R45</text><text x="188" y="242.5">10k</text>
<text x="216.5" y="233">R44</text><text x="216.5" y="237.5">20k</text><text x="205" y="253">R46</text><text x="205" y="257.5">10k</text><text class="m" x="193" y="259.5">6V</text>
<text x="254" y="228">U10</text><text x="245" y="233">NE5532</text><text class="b" x="281" y="233">+12V</text><text class="b" x="221" y="268.5">AGND</text>
<text class="s" x="240" y="241.3">OUTA</text><text class="s" x="240" y="246.4">-INA</text><text class="s" x="240" y="251.5">+INA</text><text class="s" x="240" y="256.6">V-</text>
<text class="s" x="266" y="241.3">V+</text><text class="s" x="262" y="246.4">OUTB</text><text class="s" x="265" y="251.5">-INB</text><text class="s" x="264" y="256.6">+INB</text>
<text x="298" y="162">1uF</text><text x="308.5" y="162">C68</text><text x="298" y="244">1uF</text><text x="308.5" y="244">C83</text>
<text class="b" x="300" y="175.5">AGND</text><text x="325" y="172.5">1uF</text><text x="335" y="172.5">C70</text>
<text class="b" x="346" y="125">+12V</text><text x="355.5" y="144">R34</text><text x="355.5" y="148.5">100k</text><text x="355.5" y="172.5">R37</text><text x="355.5" y="177">51k</text><text x="355.5" y="264">R47</text><text x="355.5" y="268.5">510k</text>
<text x="310" y="204">C75</text><text x="310" y="208.5">1uF</text><text x="325" y="195">R40</text><text x="325" y="199.5">100k</text><text x="325" y="220">R42</text><text x="325" y="224.5">20k</text>
<text class="b" x="318" y="242">AGND</text><text class="m" x="362" y="225.5">MUTE</text><text x="355.5" y="237">C80</text><text x="355.5" y="241.5">1uF</text>
<text class="b" x="304" y="259.5">AGND</text><text x="333" y="257">1uF</text><text x="339" y="257">C84</text><text class="b" x="362" y="290">GND</text>
<text class="b" x="376" y="157">AGND</text><text x="397" y="160">U9</text><text x="390" y="164.8">TPA3116D2DAD</text>
<g class="s"><text x="386" y="171">MODSEL</text><text x="386" y="176.2">SDZ</text><text x="386" y="181.4">FAULTZ</text><text x="386" y="186.6">RINP</text><text x="386" y="191.8">RINN</text><text x="386" y="197">PLIMIT</text><text class="rd s" x="386" y="202.2">GVDD</text><text x="386" y="207.4">GAIN/SLV</text><text class="s" x="386" y="212.6" style="fill:#000">GND</text><text x="386" y="217.8">LINP</text><text x="386" y="223">LINN</text><text x="386" y="228.2">MUTE</text><text x="386" y="233.4">AM2</text><text x="386" y="238.6">AM1</text><text x="386" y="243.8">AM0</text><text x="386" y="249">SYNC</text></g>
<g class="s" text-anchor="end"><text class="rd s" x="430.5" y="171">PVCC</text><text class="rd s" x="430.5" y="176.2">PVCC</text><text x="430.5" y="181.4">BSPR</text><text x="430.5" y="186.6">OUTPR</text><text x="430.5" y="191.8" style="fill:#000">GND</text><text x="430.5" y="197">OUTNR</text><text x="430.5" y="202.2">BSNR</text><text x="430.5" y="207.4" style="fill:#000">GND</text><text x="430.5" y="212.6">BSPL</text><text x="430.5" y="217.8">OUTPL</text><text x="430.5" y="223" style="fill:#000">GND</text><text x="430.5" y="228.2">OUTNL</text><text x="430.5" y="233.4">BSNL</text><text class="rd s" x="430.5" y="238.6">PVCC</text><text class="rd s" x="430.5" y="243.8">PVCC</text><text class="rd s" x="430.5" y="249">AVCC</text></g>
<text class="b" x="470" y="129">GND</text><text x="446" y="152">C64</text><text x="446" y="156.5">1nF</text><text x="462.5" y="152">C65</text><text x="462.5" y="156.5">100nF</text><text x="477" y="152">C66</text><text x="477" y="156.5">470uF</text><text class="b" x="471" y="172.5">VCC</text>
<text x="472" y="179">C73</text><text x="482" y="179">220nF</text><text x="472" y="199.8">C74</text><text x="482" y="199.8">220nF</text><text x="472" y="210.2">C76</text><text x="482" y="210.2">220nF</text><text x="472" y="231">C77</text><text x="482" y="231">220nF</text>
<text class="b" x="451.5" y="192">GND</text><text class="b" x="451.5" y="207.7">GND</text><text class="b" x="451.5" y="223.3">GND</text>
<text class="b" x="471" y="241">VCC</text><text x="446" y="259">C85</text><text x="446" y="263.5">1nF</text><text x="462.5" y="259">C86</text><text x="462.5" y="263.5">100nF</text><text x="477" y="259">C87</text><text x="477" y="263.5">470uF</text><text class="b" x="470" y="283">GND</text>
<text x="517" y="107">L9</text><text x="517" y="111.5">10uH</text><text x="517" y="193">L10</text><text x="517" y="197.5">10uH</text><text x="517" y="203">L11</text><text x="517" y="207.5">10uH</text><text x="517" y="291">L12</text><text x="517" y="295.5">10uH</text>
<text class="b" x="517" y="160">GND</text><text class="b" x="517" y="257.3">GND</text>
<text x="540" y="139.5">C61</text><text x="540" y="144">680nF</text><text x="559" y="139.5">C62</text><text x="559" y="144">1nF</text><text x="573" y="147">C63</text><text x="573" y="151.5">10nF</text><text x="573" y="125">R33</text><text x="573" y="129.5">3.3R</text>
<text x="573" y="172.5">C69</text><text x="573" y="177">10nF</text><text x="540" y="180.5">C71</text><text x="540" y="185">680nF</text><text x="559" y="180.5">C72</text><text x="559" y="185">1nF</text><text x="573" y="191.5">R39</text><text x="573" y="196">3.3R</text>
<text x="540" y="236.8">C78</text><text x="540" y="241.3">680nF</text><text x="559" y="236.8">C79</text><text x="559" y="241.3">1nF</text><text x="573" y="244.3">C81</text><text x="573" y="248.8">10nF</text><text x="573" y="222.3">R43</text><text x="573" y="226.8">3.3R</text>
<text x="573" y="269.8">C88</text><text x="573" y="274.3">10nF</text><text x="540" y="277.8">C89</text><text x="540" y="282.3">680nF</text><text x="559" y="277.8">C90</text><text x="559" y="282.3">1nF</text><text x="573" y="288.8">R48</text><text x="573" y="293.3">3.3R</text>
<text class="s" x="590" y="140">R+</text><text class="s" x="590" y="184">R-</text><text x="598" y="172">P5</text><text class="s" x="590" y="237.3">L+</text><text class="s" x="590" y="281.3">L-</text><text x="598" y="269.3">P6</text>
<text class="s" x="605.5" y="157.5" style="fill:#000">1</text><text class="s" x="605.5" y="163.5" style="fill:#000">2</text><text class="s" x="605.5" y="254.8" style="fill:#000">1</text><text class="s" x="605.5" y="260.8" style="fill:#000">2</text>
</g>

<!-- preamp 1 -->
<use href="#preS"/>
<g>
<text x="1086" y="114" style="font-size:6px">IN</text><text class="m" x="1113" y="111.5">6V</text><text x="1107" y="96.5">NE5532</text><text x="1123" y="101">U11</text>
<text class="b" x="1145" y="89">AGND</text><text class="s rd" x="1150.5" y="105">8</text><text class="s" x="1150.5" y="134">4</text><text class="b" x="1145" y="146">+12V</text>
<text class="s" x="1139" y="112.5">2</text><text class="s" x="1139" y="122">3</text><text class="s" x="1163" y="116.5">1</text>
<text x="1084" y="121">1uF</text><text x="1094" y="121">C92</text><text x="1105" y="129">R51  10k</text>
<text x="1177" y="110">R49</text><text x="1178" y="115">10k</text><text x="1201" y="110">R50</text><text x="1201" y="115">10k</text>
<text class="b" x="1210" y="80">AGND</text><text x="1223" y="100">C91</text><text x="1223" y="104.5">100nF</text><text x="1242" y="104.5">NE5532</text><text x="1242" y="109">U12.2</text>
<text class="s" x="1225" y="117">6</text><text class="s" x="1225" y="126.5">5</text><text class="s" x="1252" y="122">7</text>
<text x="1263" y="120.5" style="font-size:5.5px">OUT</text><text class="s" x="1287" y="121.5">MID_F</text>
<text x="1197" y="141.5">C93  220nF</text><text x="1189" y="155.5" style="font-size:4.3px">低通选频</text>
<text x="1142" y="158.5">R52</text><text x="1158" y="157.8">75k</text><text x="1151" y="171">C94</text><text x="1150" y="175.5">100pF</text>
<text x="1009" y="157.5">R53</text><text x="1009" y="162">50K</text><text class="b" x="982" y="169.5">AGND</text><text class="s" x="1050" y="162.5">MID_IN7</text>
<text x="1023" y="197.5" style="font-size:3.5px">仅采用右声道作为低音音源</text>
<text class="big" x="1269" y="197">前级放大</text>
</g>

<!-- preamp 2 -->
<use href="#preS" transform="translate(4,342)"/>
<g transform="translate(4,342)">
<text x="1086" y="114" style="font-size:6px">IN</text><text class="m" x="1113" y="111.5">6V</text><text x="1107" y="96.5">NE5532</text><text x="1123" y="101">U14</text>
<text class="b" x="1145" y="89">AGND</text><text class="s rd" x="1150.5" y="105">8</text><text class="s" x="1150.5" y="134">4</text><text class="b" x="1145" y="146">+12V</text>
<text class="s" x="1139" y="112.5">2</text><text class="s" x="1139" y="122">3</text><text class="s" x="1163" y="116.5">1</text>
<text x="1084" y="121">1uF</text><text x="1094" y="121">C109</text><text x="1105" y="129">R64  10k</text>
<text x="1177" y="110">R62</text><text x="1178" y="115">10k</text><text x="1201" y="110">R63</text><text x="1201" y="115">10k</text>
<text class="b" x="1210" y="80">AGND</text><text x="1223" y="100">C107</text><text x="1223" y="104.5">100nF</text><text x="1242" y="104.5">NE5532</text><text x="1242" y="109">U15.2</text>
<text class="s" x="1225" y="117">6</text><text class="s" x="1225" y="126.5">5</text><text class="s" x="1252" y="122">7</text>
<text x="1263" y="120.5" style="font-size:5.5px">OUT</text><text class="s" x="1287" y="121.5">BASS_F</text>
<text x="1197" y="141.5">C110  220nF</text><text x="1189" y="155.5" style="font-size:4.3px">低通选频</text>
<text x="1142" y="158.5">R65</text><text x="1158" y="157.8">75k</text><text x="1151" y="171">C111</text><text x="1150" y="175.5">100pF</text>
<text x="1009" y="157.5">R66</text><text x="1009" y="162">50K</text><text class="b" x="982" y="169.5">AGND</text><text class="s" x="1050" y="162.5">BASS_IN8</text>
<text x="1023" y="197.5" style="font-size:3.5px">仅采用右声道作为低音音源</text>
<text class="big" x="1261" y="197">前级放大</text>
</g>

<!-- backend 1 -->
<use href="#backS"/>
<g>
<text class="b" x="1122" y="236">VCC</text><text x="998" y="270">C96</text><text x="998" y="274.5">470uF</text>
<text x="1033" y="272">R55</text><text x="1033" y="276.5">56K</text><text x="1018" y="301">C100</text><text x="1018" y="305.5">100nF</text>
<text class="s" x="1042" y="284.5">MID_F</text><text x="1059" y="283">C97</text><text x="1074" y="283">2.2uF</text>
<text x="1136" y="275">U13</text><text x="1136" y="280">TDA2030</text>
<text class="s" x="1136" y="287.4">IN+</text><text class="s" x="1136" y="292.2">IN-</text><text class="s" x="1136" y="296.9">-VS</text><text class="s" x="1136" y="301.7">OUT</text><text class="s" x="1136" y="306.4">+VS</text>
<text class="s" x="1131.5" y="286">1</text><text class="s" x="1131.5" y="290.8">2</text><text class="s" x="1131.5" y="295.5">3</text><text class="s" x="1131.5" y="300.3">4</text><text class="s" x="1131.5" y="305">5</text>
<text x="1130" y="263">R54</text><text x="1130" y="267.5">1.5</text>
<text class="s" transform="translate(1182,271) rotate(-90)">2N3906</text><text x="1179" y="288">Q1</text><text class="s" transform="translate(1194,287) rotate(-90)">1N4001</text><text x="1204" y="281">D1</text>
<text x="1162" y="303.5">C102</text><text x="1162" y="308">220nF</text><text x="1083" y="308">R56</text><text x="1083" y="312.5">56K</text>
<text x="1052" y="327">R59</text><text x="1052" y="331.5">56K</text><text x="1033" y="332">C103</text><text x="1033" y="336.5">22uF</text>
<text x="1134" y="330">R58</text><text x="1152" y="330">30k</text><text x="1095" y="334">R60</text><text x="1095" y="338.5">3.3k</text>
<text x="1124" y="348">R61</text><text x="1124" y="352.5">1.5</text><text x="1095" y="356">C105</text><text x="1095" y="360.5">10uF</text>
<text class="s" transform="translate(1183,311) rotate(-90)">Q2</text><text class="s" transform="translate(1185,342) rotate(-90)">2N3904</text><text class="s" transform="translate(1194,337) rotate(-90)">1N4001</text><text x="1204" y="330">D2</text>
<text x="1223" y="315">R57</text><text x="1223" y="319.5">1</text><text x="1224" y="337">C104</text><text x="1224" y="341.5">220nF</text>
<text x="1241" y="291">C101</text><text x="1241" y="295.5">2200uF</text><text class="s" x="1268" y="299">MID+</text><text class="s" x="1286" y="302">MID+</text>
<text x="1311" y="278">P7</text><text class="b" x="1353" y="299.5">GND</text><text x="1357" y="283" style="font-size:3.6px">中前接口</text>
<text class="b" x="1115" y="377">GND</text><text class="big" x="1282" y="363">后级放大</text>
</g>

<!-- backend 2 -->
<use href="#backS" transform="translate(5,341.2)"/>
<g transform="translate(5,341.2)">
<text class="b" x="1122" y="236">VCC</text><text x="998" y="270">C112</text><text x="998" y="274.5">470uF</text>
<text x="1033" y="272">R68</text><text x="1033" y="276.5">56K</text><text x="1018" y="301">C114</text><text x="1018" y="305.5">100nF</text>
<text class="s" x="1042" y="284.5">BASS_F</text><text x="1059" y="283">C113</text><text x="1074" y="283">2.2uF</text>
<text x="1136" y="275">U16</text><text x="1136" y="280">TDA2030</text>
<text class="s" x="1136" y="287.4">IN+</text><text class="s" x="1136" y="292.2">IN-</text><text class="s" x="1136" y="296.9">-VS</text><text class="s" x="1136" y="301.7">OUT</text><text class="s" x="1136" y="306.4">+VS</text>
<text class="s" x="1131.5" y="286">1</text><text class="s" x="1131.5" y="290.8">2</text><text class="s" x="1131.5" y="295.5">3</text><text class="s" x="1131.5" y="300.3">4</text><text class="s" x="1131.5" y="305">5</text>
<text x="1130" y="263">R67</text><text x="1130" y="267.5">1.5</text>
<text class="s" transform="translate(1182,271) rotate(-90)">2N3906</text><text x="1179" y="288">Q3</text><text class="s" transform="translate(1194,287) rotate(-90)">1N4001</text><text x="1204" y="281">D3</text>
<text x="1162" y="303.5">C116</text><text x="1162" y="308">220nF</text><text x="1083" y="308">R70</text><text x="1083" y="312.5">56K</text>
<text x="1052" y="327">R75</text><text x="1052" y="331.5">56K</text><text x="1033" y="332">C118</text><text x="1033" y="336.5">22uF</text>
<text x="1134" y="330">R74</text><text x="1152" y="330">30k</text><text x="1095" y="334">R76</text><text x="1095" y="338.5">3.3k</text>
<text x="1124" y="348">R77</text><text x="1124" y="352.5">1.5</text><text x="1095" y="356">C121</text><text x="1095" y="360.5">10uF</text>
<text class="s" transform="translate(1183,311) rotate(-90)">Q4</text><text class="s" transform="translate(1185,342) rotate(-90)">2N3904</text><text class="s" transform="translate(1194,337) rotate(-90)">1N4001</text><text x="1204" y="330">D4</text>
<text x="1223" y="315">R71</text><text x="1223" y="319.5">1</text><text x="1224" y="337">C120</text><text x="1224" y="341.5">220nF</text>
<text x="1241" y="291">C115</text><text x="1241" y="295.5">2200uF</text><text class="s" x="1268" y="299">BASS+</text><text class="s" x="1286" y="302">BASS+</text>
<text x="1320" y="278">P8</text><text class="b" x="1353" y="299.5">GND</text><text x="1361" y="283" style="font-size:3.6px">重低音接口</text>
<text class="b" x="1115" y="377">GND</text><text class="big" x="1282" y="363">后级放大</text>
</g>

<!-- audio jacks -->
<use href="#jackS"/>
<use href="#jackS" transform="translate(182.8,-1.9)"/>
<use href="#jackS" transform="translate(352.1,-4.8)"/>
<use href="#jackS" transform="translate(513,-4.8)"/>
<g class="s">
<text x="883" y="814.5">AUDIO1</text><text x="883" y="819.5">PJ-326 3.5耳机座 贴片</text><text class="b" x="928.5" y="829">AGND</text><text x="922" y="834">R_IN2</text><text x="922" y="841.5">L_IN1</text>
<text x="891" y="826">1</text><text x="891" y="833.5">2</text><text x="891" y="841">3</text>
<g transform="translate(182.8,-1.9)"><text x="883" y="814.5">AUDIO2</text><text x="883" y="819.5">PJ-326 3.5耳机座 贴片</text><text class="b" x="928.5" y="829">AGND</text><text x="922" y="834">R_IN6</text><text x="922" y="841.5">L_IN5</text><text x="891" y="826">1</text><text x="891" y="833.5">2</text><text x="891" y="841">3</text></g>
<g transform="translate(352.1,-4.8)"><text x="883" y="814.5">AUDIO3</text><text x="883" y="819.5">PJ-326 3.5耳机座 贴片</text><text class="b" x="928.5" y="829">AGND</text><text x="922" y="834">R_IN4</text><text x="922" y="841.5">L_IN3</text><text x="891" y="826">1</text><text x="891" y="833.5">2</text><text x="891" y="841">3</text></g>
<g transform="translate(513,-4.8)"><text x="883" y="814.5">AUDIO4</text><text x="883" y="819.5">PJ-326 3.5耳机座 贴片</text><text class="b" x="928.5" y="829">AGND</text><text x="922" y="834">BASS_IN8</text><text x="922" y="841.5">MID_IN7</text><text x="891" y="826">1</text><text x="891" y="833.5">2</text><text x="891" y="841">3</text></g>
</g>

<!-- power -->
<path class="w" style="stroke-width:.9" d="M1023 964H1089.3V978.1M1108.3 978.1V964H1183.1M1193.6 964H1238.9V1011.1H1023V959.6"/>
<path class="w" d="M1039.4 964V1011.1M1060.7 964V1011.1M1132.3 959.6V1011.1M1153.2 964V1011.1M1172.7 964V971M1172.7 981.1V997M1172.7 1002V1011.1M1200.8 964V978.4M1200.8 987.9V1011.1M1219.4 964V1011.1M878.3 989.9H899.7V976M889.7 994.4V999.6M868 999.6H902"/>
<path class="c" d="M1099.2 997.3V1020M1089.3 964V978.1M1108.3 964V978.1M1020.5 984.7H1025.5M1020.5 986.6Q1023 985 1025.5 986.6M1036.9 984.7H1041.9M1036.9 986.6Q1039.4 985 1041.9 986.6M1058.2 984.7H1063.2M1058.2 986.6Q1060.7 985 1063.2 986.6M1129.8 984.7H1134.8M1129.8 986.6Q1132.3 985 1134.8 986.6M1150.7 984.1H1155.7M1150.7 985.3H1155.7M1216.9 984.1H1221.9M1216.9 985.3H1221.9M1236.4 984.1H1241.4M1236.4 985.3H1241.4M872.5 994.4H889.7M866 999.6L867 997.5"/>
<g class="r"><rect x="1084.7" y="978.1" width="28.1" height="19.2" style="stroke:#333;stroke-width:.7"/><rect x="1183.1" y="962.4" width="10.5" height="3.2"/><rect x="1171.2" y="971" width="3" height="10.1"/><rect x="1199.3" y="978.4" width="3" height="9.5"/><rect x="864.8" y="987.9" width="12.2" height="4.4"/></g>
<path d="M1170.2 996.5H1175.2L1172.7 1001Z" fill="#20c020" stroke="#a01010" stroke-width=".4"/>
<path class="k" d="M1023 959.6V958.5M1020 958.5H1026M1132.3 959.6V958.5M1129.3 958.5H1135.3M899.7 976V974.5M896.7 974.5H902.7M902 996.6V1002.6M903 997.6V1001.6M1097.2 1020H1101.2L1099.2 1022Z"/>
<g class="d"><circle cx="1023" cy="964" r=".8"/><circle cx="1039.4" cy="964" r=".8"/><circle cx="1060.7" cy="964" r=".8"/><circle cx="1132.3" cy="964" r=".8"/><circle cx="1153.2" cy="964" r=".8"/><circle cx="1172.7" cy="964" r=".8"/><circle cx="1200.8" cy="964" r=".8"/><circle cx="1219.4" cy="964" r=".8"/><circle cx="1039.4" cy="1011.1" r=".8"/><circle cx="1060.7" cy="1011.1" r=".8"/><circle cx="1099.2" cy="1011.1" r=".8"/><circle cx="1132.3" cy="1011.1" r=".8"/><circle cx="1153.2" cy="1011.1" r=".8"/><circle cx="1172.7" cy="1011.1" r=".8"/><circle cx="1200.8" cy="1011.1" r=".8"/><circle cx="1219.4" cy="1011.1" r=".8"/></g>
<text class="b" x="1018" y="957.5">VCC</text><text class="b" x="1127" y="957.5">+12V</text><text class="s" x="1180" y="955">R69</text><text class="s" x="1180" y="959.5">100k</text><text class="m" x="1220" y="962">6V</text>
<text class="s" x="1008" y="985">C95</text><text class="s" x="1005" y="992">2200uF</text><text class="s" x="1041" y="985.5">C98</text><text class="s" x="1041" y="990">470uF</text><text class="s" x="1062" y="985.5">C99</text><text class="s" x="1062" y="990">470uF</text>
<text class="s" x="1114" y="985">CJ7812</text><text class="s" x="1114" y="989">U1</text><text class="s" x="1095" y="982">Vin</text><text class="s" x="1103" y="982">Vout</text><text class="s" x="1096" y="994">GND</text>
<text class="s" x="1135" y="985.5">C106</text><text class="s" x="1135" y="990">470uF</text><text class="s" x="1155" y="985.5">C108</text><text class="s" x="1155" y="990">100nF</text>
<text class="s" x="1175" y="975">R72</text><text class="s" x="1175" y="979.5">1k</text><text class="s" x="1203" y="982">R73</text><text class="s" x="1203" y="986.5">100k</text>
<text class="s" x="1221" y="985.5">C117</text><text class="s" x="1221" y="990">10uF</text><text class="s" x="1241" y="985.5">C119</text><text class="s" x="1241" y="990">100nF</text>
<text class="s" x="1176" y="999">POWER1</text><text class="s" x="1176" y="1003.5">LED-TH-3mm_G</text><text class="b" x="1094" y="1026">GND</text>
<text class="s" x="873" y="975">DC1</text><text class="s" x="873" y="979.5">DC005_C431533</text><text class="b" x="895" y="971">VCC</text><text class="b" x="903.5" y="1001">GND</text>
<text x="845" y="1019.5">预留了电源接口，建议12V 3A以上</text>
<text class="big" x="1126" y="1035" style="font-size:10px">滤波12V稳压/6V分压</text>
<text x="997" y="1045.5" style="font-size:3.7px">考虑市电电压波动，整流的电压不一定是12V，这里加上12V稳压管，制取6V，标准对半分压，用</text>
<text x="997" y="1051" style="font-size:3.7px">于前级放大器NE5322，该器件由单电源供电时需要12V和6V。这里通过串联分压实现6V制取</text>
<!-- L13 single point ground -->
<path class="w" d="M1407.6 973.7H1423.5M1439.4 973.7H1455.2"/>
<path class="c" d="M1423.5 973.7a2 2 0 0 1 4 0a2 2 0 0 1 4 0a2 2 0 0 1 4 0a2 2 0 0 1 4 0"/>
<path class="k" d="M1406.6 970.7V976.7M1405.6 971.7V975.7M1455.2 970.7V976.7M1456.2 971.7V975.7"/>
<text class="b" x="1389" y="975">AGND</text><text class="b" x="1457" y="975">GND</text><text class="s" x="1427" y="966">L13</text><text class="s" x="1427" y="970.5">120Ω</text>
<text class="big" x="1447" y="1002">单点接地</text>
<text x="1381" y="1011" style="font-size:3.5px">信号地和电源地分开布置，最后通过一枚磁珠单点</text>
<text x="1381" y="1016" style="font-size:3.5px">接地，可以避免电源复杂情况下的很多干扰噪声</text>
</svg>
</body></html>
